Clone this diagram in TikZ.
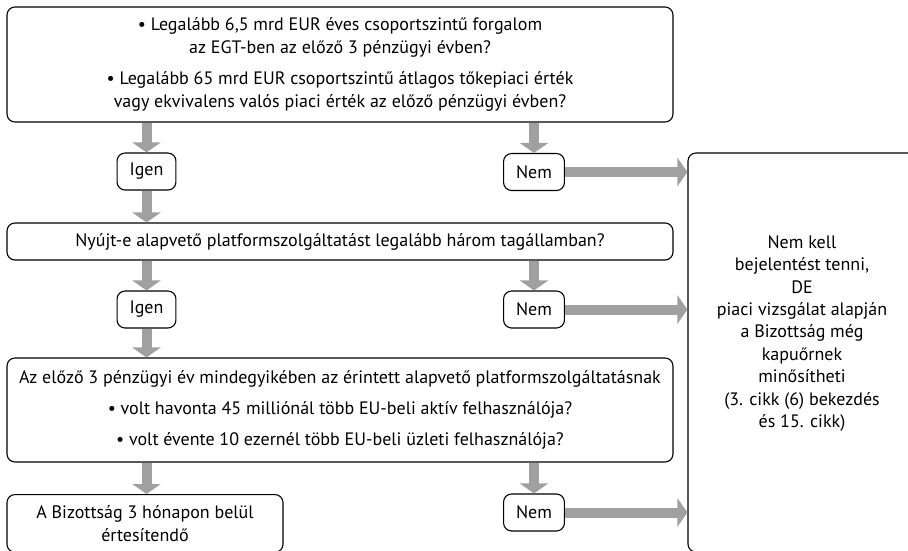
\documentclass[tikz,border=0pt]{standalone}
\usepackage{fontspec}
\setmainfont{PT Sans}
\usetikzlibrary{arrows.meta,positioning}
\definecolor{arrgray}{RGB}{160,160,160}
\tikzset{
  box/.style={
    draw,
    rectangle,
    rounded corners=8pt,
    line width=1.1pt,
    inner sep=0pt,
    align=center,
    font=\fontsize{18}{22.5}\selectfont,
  },
  ans/.style={
    box,
    inner xsep=12.5pt,
    minimum height=37pt,
  },
  txt/.style={
    align=center,
    inner sep=0pt,
    font=\fontsize{18}{22.4}\selectfont,
  },
  arr/.style={
    draw=arrgray,
    line width=10pt,
    -{Triangle[width=28pt,length=10pt]},
  },
}

\begin{document}
\begin{tikzpicture}[x=1pt,y=-1pt]
  \useasboundingbox (0,0) rectangle (908,550);
  \clip (0,0) rectangle (908,550);
  % kérdések
  \node[box, minimum width=666pt, minimum height=115pt] (q1) at (340,64.5)
    {• Legalább 6,5 mrd EUR éves csoportszintű forgalom\\
     az EGT-ben az előző 3 pénzügyi évben?\\[9pt]
     • Legalább 65 mrd EUR csoportszintű átlagos tőkepiaci érték\\
     vagy ekvivalens valós piaci érték az előző pénzügyi évben?};
  \node[ans] (igen1) at (146.5,171.5) {Igen};
  \node[ans] (nem1) at (534,172) {Nem};
  \node[box, minimum width=666pt, minimum height=37pt] (q2) at (340,241.5)
    {Nyújt-e alapvető platformszolgáltatást legalább három tagállamban?};
  \node[ans] (igen2) at (146.5,309.5) {Igen};
  \node[ans] (nem2) at (534,309.5) {Nem};
  \node[box, minimum width=666pt, minimum height=104pt] (q3) at (340,410)
    {Az előző 3 pénzügyi év mindegyikében az érintett alapvető platformszolgáltatásnak\\[8.5pt]
     • volt havonta 45 milliónál több EU-beli aktív felhasználója?\\[8.5pt]
     • volt évente 10 ezernél több EU-beli üzleti felhasználója?};
  \node[ans] (nem3) at (534,512.5) {Nem};
  % eredmények
  \node[box, anchor=north, minimum width=276pt, inner ysep=11pt] (ertesit) at (145,494)
    {A Bizottság 3 hónapon belül\\ értesítendő};
  \node[box, minimum width=228pt, minimum height=399pt] (nincs) at (802,352.5) {};
  \node[txt] (nincstxt) at (802,333.5)
    {Nem kell\\ bejelentést tenni,\\ DE\\ piaci vizsgálat alapján\\
     a Bizottság még\\ kapuőrnek\\ minősítheti\\ (3. cikk (6) bekezdés\\ és 15. cikk)};
  % nyilak
  \draw[arr] (q1.south -| igen1) -- (igen1.north);
  \draw[arr] (q1.south -| nem1) -- (nem1.north);
  \draw[arr] (igen1.south) -- (igen1 |- q2.north);
  \draw[arr] (q2.south -| igen2) -- (igen2.north);
  \draw[arr] (q2.south -| nem2) -- (nem2.north);
  \draw[arr] (igen2.south) -- (igen2 |- q3.north);
  \draw[arr] (q3.south -| igen2) -- (igen2 |- ertesit.north);
  \draw[arr] (q3.south -| nem3) -- (nem3.north);
  \draw[arr] (nem1.east) -- (nem1.east -| nincs.west);
  \draw[arr] (nem2.east) -- (nem2.east -| nincs.west);
  \draw[arr] (nem3.east) -- (nem3.east -| nincs.west);
\end{tikzpicture}
\end{document}
